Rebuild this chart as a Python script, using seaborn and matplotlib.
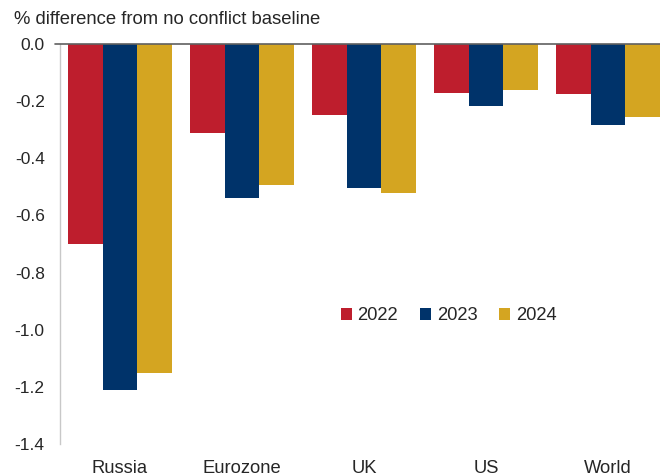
import pandas as pd
import matplotlib
matplotlib.use("Agg")
import matplotlib.pyplot as plt
import seaborn as sns

sns.set_style("white")
plt.rcParams["font.family"] = ["Liberation Sans", "DejaVu Sans"]

# Values
regions = ["Russia", "Eurozone", "UK", "US", "World"]
years = ["2022", "2023", "2024"]
v2022 = [-0.70, -0.31, -0.25, -0.17, -0.175]
v2023 = [-1.21, -0.54, -0.505, -0.217, -0.283]
v2024 = [-1.15, -0.495, -0.52, -0.162, -0.255]
colors = ["#BE1E2D", "#00336A", "#D4A521"]

df = pd.DataFrame({
    "region": regions * 3,
    "year": [y for y in years for _ in regions],
    "value": v2022 + v2023 + v2024,
})

fig = plt.figure(figsize=(6.6, 4.73), dpi=100)
ax = fig.add_axes([60 / 660, 29 / 473, 600 / 660, 400 / 473])

sns.barplot(data=df, x="region", y="value", hue="year", hue_order=years,
            palette=colors, width=0.85, gap=0, saturation=1, ax=ax,
            errorbar=None, linewidth=0)

ax.set_ylim(-1.4, 0)
ax.set_xlim(-0.49, 4.425)
ax.set_yticks([0, -0.2, -0.4, -0.6, -0.8, -1.0, -1.2, -1.4])
ax.set_yticklabels([f"{t:.1f}" for t in ax.get_yticks()])
ax.set_xlabel("")
ax.set_ylabel("")

for s in ["top", "right", "bottom"]:
    ax.spines[s].set_visible(False)
ax.spines["left"].set_color("#c8c8c8")
ax.spines["left"].set_linewidth(1)
ax.tick_params(axis="y", length=5, width=1, color="#c8c8c8", labelsize=12.5, pad=6)
ax.tick_params(axis="x", length=0, labelsize=13.2, pad=11.5)

# zero line
ax.plot([-0.535, 4.425], [0, 0], color="#606060", lw=1.2, clip_on=False, zorder=5)

fig.text(14 / 660, 1 - 20 / 473, "% difference from no conflict baseline",
         fontsize=13.3, va="center", ha="left")

ax.legend(loc="center", bbox_to_anchor=(0.648, 0.32), ncol=3, frameon=False,
          fontsize=13.2, handlelength=0.6, handleheight=0.6, handletextpad=0.3,
          columnspacing=1.2)

fig.savefig("out.png", dpi=100)
